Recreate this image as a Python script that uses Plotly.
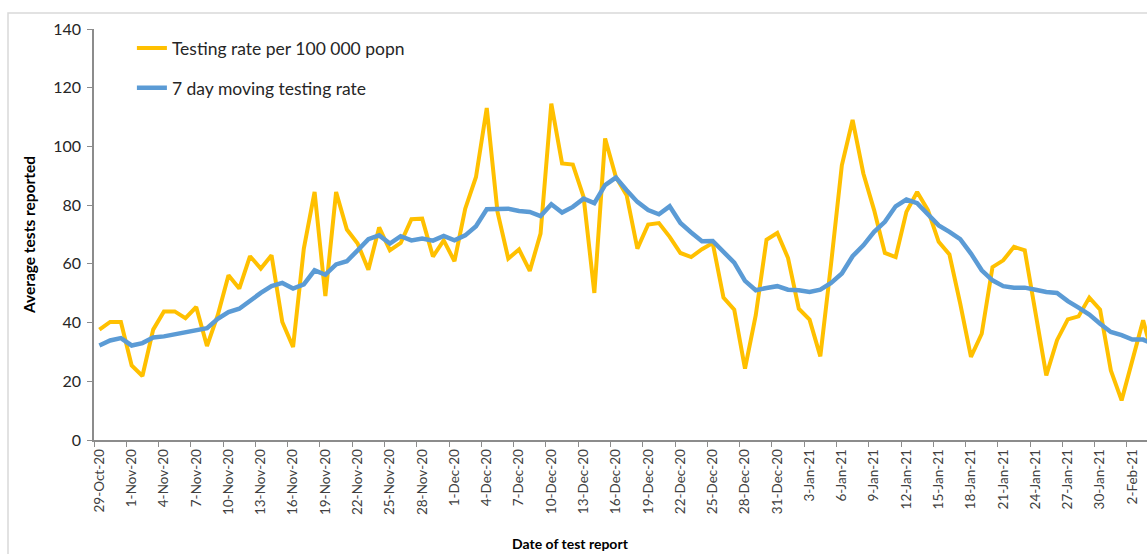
import pandas as pd
import plotly.graph_objects as go

# daily values, starting 29-Oct-20
start_date = "2020-10-29"
testing_rate = [
  37.6, 40.2, 40.2, 25.4, 21.8, 37.6, 43.8, 43.8, 41.5, 45.3,
  32.0, 42.5, 56.1, 51.6, 62.6, 58.4, 62.9, 40.2, 31.7, 65.2,
  84.5, 49.0, 84.5, 71.7, 66.9, 58.0, 72.4, 64.6, 67.1, 75.2,
  75.4, 62.5, 68.0, 60.9, 78.8, 89.6, 113.1, 77.7, 61.8, 64.9,
  57.6, 70.3, 114.6, 94.2, 93.8, 82.8, 50.1, 102.7, 89.6, 83.4,
  65.2, 73.4, 73.9, 69.2, 63.7, 62.3, 65.0, 67.1, 48.5, 44.4,
  24.3, 42.5, 68.2, 70.5, 62.0, 44.7, 41.0, 28.5, 60.0, 93.6,
  109.0, 90.8, 78.3, 63.7, 62.3, 77.7, 84.5, 78.3, 67.5, 63.2,
  46.5, 28.3, 36.2, 58.9, 61.2, 65.8, 64.6, 43.0, 22.0, 34.0,
  41.1, 42.1, 48.5, 44.4, 23.7, 13.5, 27.1, 40.8, 27.0,
]
moving_rate = [
  32.2, 33.9, 34.7, 32.2, 33.0, 34.9, 35.3, 36.0, 36.4, 37.1,
  38.1, 41.3, 43.6, 44.7, 47.6, 50.1, 52.4, 53.5, 51.6, 53.0,
  57.8, 56.3, 59.8, 60.9, 64.6, 68.4, 69.7, 66.9, 69.4, 68.0,
  68.6, 67.9, 69.5, 68.0, 69.7, 72.8, 78.6, 78.8, 78.8, 78.0,
  77.7, 76.3, 80.3, 77.5, 79.4, 82.2, 80.7, 86.8, 89.4, 85.1,
  81.1, 78.3, 76.9, 79.6, 73.9, 70.7, 67.7, 67.8, 64.0, 60.4,
  54.2, 51.0, 51.8, 52.4, 51.2, 51.0, 50.4, 51.2, 53.5, 56.7,
  62.6, 66.3, 70.9, 74.3, 79.6, 81.9, 80.7, 76.8, 73.1, 70.9,
  68.4, 63.5, 57.8, 54.4, 52.4, 51.9, 51.9, 51.2, 50.4, 50.1,
  47.3, 45.1, 42.7, 39.6, 36.8, 35.7, 34.2, 34.2, 32.5,
]
dates = pd.date_range(start_date, periods=len(testing_rate), freq="D")

FONT = "Lato"
AXIS_GREY = "#8c8c8c"

fig = go.Figure()
fig.add_trace(go.Scatter(
  x=dates, y=testing_rate, mode="lines",
  name="Testing rate per 100 000 popn",
  line=dict(color="#FFC000", width=4),
  legendgroup="a",
))
fig.add_trace(go.Scatter(
  x=dates, y=moving_rate, mode="lines",
  name="7 day moving testing rate",
  line=dict(color="#5B9BD5", width=4.5),
  legendgroup="b",
))

day = pd.Timedelta(days=1)
x0 = dates[0] - day / 2
x1 = dates[0] + day * 97.36

fig.update_layout(
  width=1147, height=554,
  margin=dict(l=94, r=0, t=29, b=114),
  paper_bgcolor="white", plot_bgcolor="white",
  font=dict(family=FONT, color="#262626"),
  showlegend=True,
  legend=dict(
    x=0.036, y=0.997, xanchor="left", yanchor="top",
    font=dict(size=17.5, color="#262626"),
    bgcolor="rgba(0,0,0,0)",
    traceorder="grouped", tracegroupgap=14,
  ),
  xaxis=dict(
    range=[x0, x1],
    tick0=start_date, dtick=3 * 86400000,
    tickformat="%-d-%b-%y", tickangle=-90,
    ticks="", tickfont=dict(size=13.5, color="#404040"),
    ticklabelstandoff=2,
    showline=True, linecolor=AXIS_GREY, linewidth=1.5,
    showgrid=False, zeroline=False,
    minor=dict(ticks="outside", ticklen=5, tickcolor=AXIS_GREY,
               tick0=x0, dtick=3 * 86400000, showgrid=False),
  ),
  yaxis=dict(
    range=[0, 140], dtick=20,
    ticks="outside", ticklen=5, tickcolor=AXIS_GREY,
    tickfont=dict(size=16, color="#262626"),
    ticklabelstandoff=3,
    showline=True, linecolor=AXIS_GREY, linewidth=1.5,
    showgrid=False, zeroline=False,
    title=dict(text="<b>Average tests reported</b>", font=dict(size=15.5, color="#000"),
               standoff=14),
  ),
)

# x title sits left of the plot centre in the original (its plot is cropped)
fig.add_annotation(
  text="<b>Date of test report</b>", showarrow=False,
  xref="paper", yref="paper", x=(570 - 94) / 1053, y=(440 - 543) / 411,
  xanchor="center", yanchor="middle",
  font=dict(size=14, color="#000", family=FONT),
)

# light outer chart border like the original screenshot
fig.add_shape(
  type="rect", xref="paper", yref="paper",
  x0=(8 - 94) / 1053, x1=1.02, y0=-0.3, y1=(440 - 13) / 411,
  line=dict(color="#d9d9d9", width=1.5), layer="below",
)

fig.write_html("out.html", config={"displayModeBar": False},
               post_script="document.body.style.margin='0';")
